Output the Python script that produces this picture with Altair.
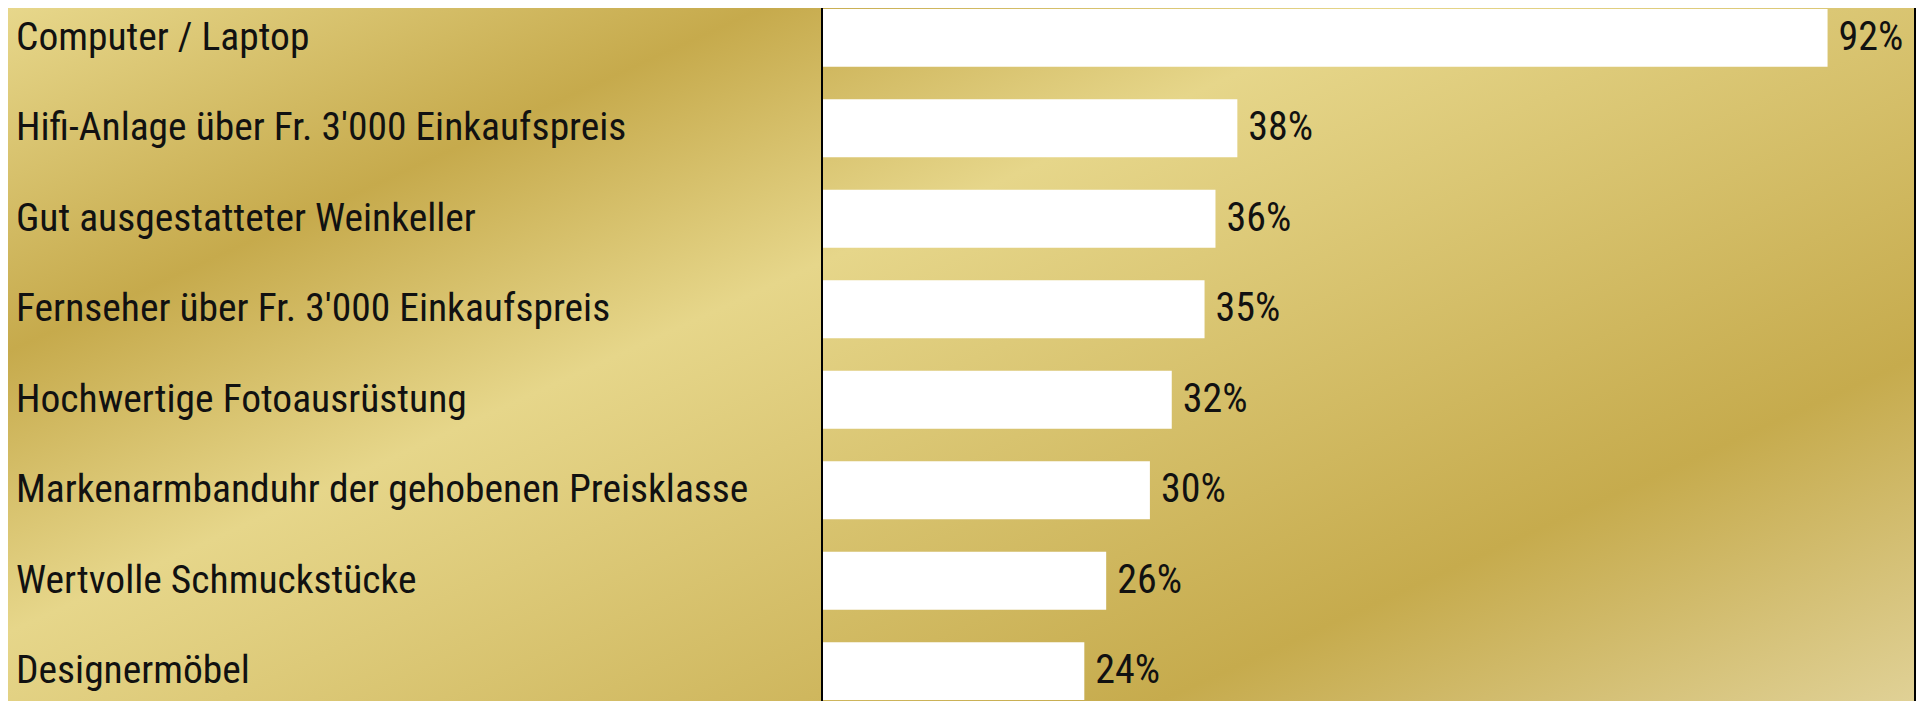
import altair as alt
import pandas as pd

categories = [
    "Computer / Laptop",
    "Hifi-Anlage über Fr. 3'000 Einkaufspreis",
    "Gut ausgestatteter Weinkeller",
    "Fernseher über Fr. 3'000 Einkaufspreis",
    "Hochwertige Fotoausrüstung",
    "Markenarmbanduhr der gehobenen Preisklasse",
    "Wertvolle Schmuckstücke",
    "Designermöbel",
]
values = [92, 38, 36, 35, 32, 30, 26, 24]
value_labels = ["92%", "38%", "36%", "35%", "32%", "30%", "26%", "24%"]

df = pd.DataFrame({"cat": categories, "val": values, "lab": value_labels})

PLOT_W = 1093
PLOT_H = 693
LEFT = 814
FONT = "Liberation Sans Narrow, Arial Narrow, Roboto Condensed, sans-serif"

y_enc = alt.Y(
    "cat:N",
    sort=categories,
    axis=None,
    scale=alt.Scale(paddingInner=0.36, paddingOuter=0.01),
)
x_scale = alt.Scale(domain=[0, 100], nice=False, zero=True)

gradient = alt.LinearGradient(
    gradient="linear",
    stops=[
        alt.GradientStop(offset=0.0, color="#e7d78b"),
        alt.GradientStop(offset=0.22, color="#c6aa4c"),
        alt.GradientStop(offset=0.40, color="#e6d68a"),
        alt.GradientStop(offset=0.78, color="#c6ab4d"),
        alt.GradientStop(offset=1.0, color="#e0d196"),
    ],
    x1=0, y1=0, x2=1.098, y2=0.877,
)

bg = alt.Chart(pd.DataFrame({"a": [0]})).mark_rect(fill=gradient, strokeWidth=0).encode(
    x=alt.value(-LEFT), x2=alt.value(PLOT_W + 1), y=alt.value(0), y2=alt.value(PLOT_H)
)

base = alt.Chart(df)

bars = base.mark_bar(color="white", strokeWidth=0).encode(
    x=alt.X("val:Q", scale=x_scale, axis=None),
    y=y_enc,
)

val_text = base.mark_text(
    align="left", baseline="middle", dx=11, font=FONT, fontSize=40, color="#111111"
).encode(
    x=alt.X("val:Q", scale=x_scale, axis=None),
    y=y_enc,
    text="lab:N",
)

cat_text = base.mark_text(
    align="left", baseline="middle", font=FONT, fontSize=39.5, color="#111111"
).encode(
    x=alt.value(-806),
    y=y_enc,
    text="cat:N",
)

left_rule = alt.Chart(pd.DataFrame({"a": [0]})).mark_rule(color="black", strokeWidth=2).encode(
    x=alt.value(0), y=alt.value(0), y2=alt.value(PLOT_H)
)
right_rule = alt.Chart(pd.DataFrame({"a": [0]})).mark_rule(color="black", strokeWidth=2).encode(
    x=alt.value(PLOT_W), y=alt.value(0), y2=alt.value(PLOT_H)
)

chart = alt.layer(bg, bars, val_text, cat_text, left_rule, right_rule).properties(
    width=PLOT_W,
    height=PLOT_H,
    padding={"left": LEFT, "top": 0, "right": 1, "bottom": 0},
    autosize=alt.AutoSizeParams(type="none"),
).configure_view(stroke=None)

chart.save("out.html", embed_options={"renderer": "svg", "actions": False})
